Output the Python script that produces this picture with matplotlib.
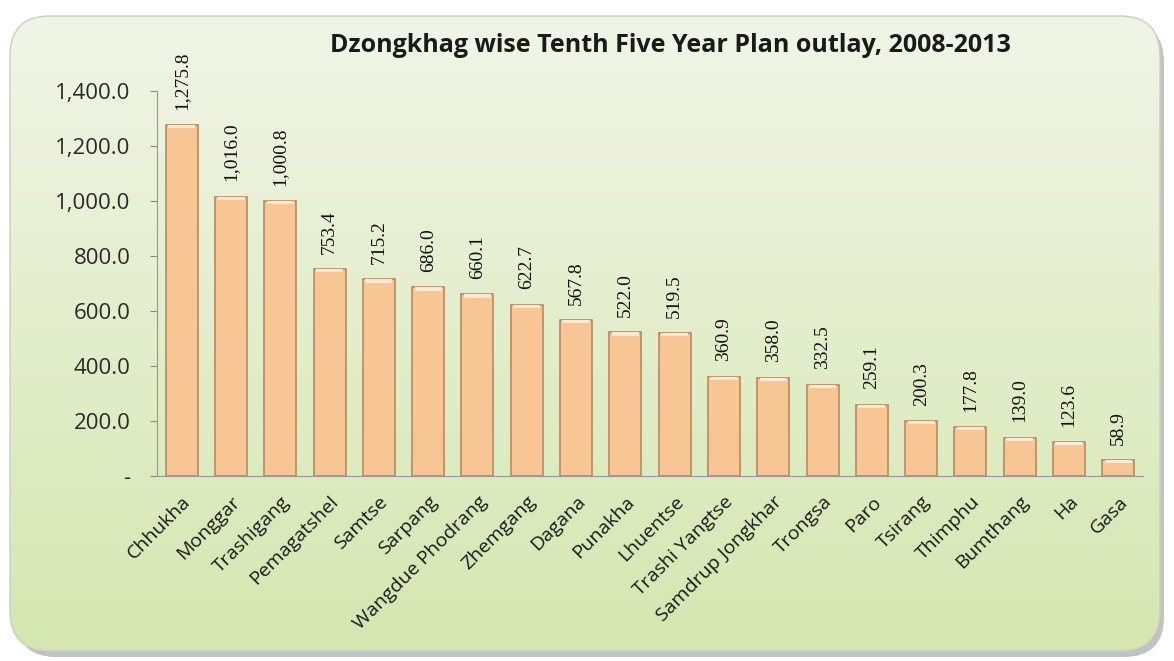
import matplotlib
matplotlib.use("Agg")
import matplotlib.pyplot as plt
import numpy as np
from matplotlib.patches import FancyBboxPatch
from matplotlib.ticker import FuncFormatter

categories = ["Chhukha", "Monggar", "Trashigang", "Pemagatshel", "Samtse", "Sarpang",
              "Wangdue Phodrang", "Zhemgang", "Dagana", "Punakha", "Lhuentse",
              "Trashi Yangtse", "Samdrup Jongkhar", "Trongsa", "Paro", "Tsirang",
              "Thimphu", "Bumthang", "Ha", "Gasa"]
values = [1275.8, 1016.0, 1000.8, 753.4, 715.2, 686.0, 660.1, 622.7, 567.8, 522.0,
          519.5, 360.9, 358.0, 332.5, 259.1, 200.3, 177.8, 139.0, 123.6, 58.9]
yticks = [0, 200, 400, 600, 800, 1000, 1200, 1400]
title = "Dzongkhag wise Tenth Five Year Plan outlay, 2008-2013"

W, H = 1174, 661
fig = plt.figure(figsize=(W/100, H/100), dpi=100)
fig.patch.set_facecolor("white")

# background panel with gradient and rounded corners
bg = fig.add_axes([0, 0, 1, 1], zorder=0)
bg.set_xlim(0, W); bg.set_ylim(0, H); bg.axis("off")
shadow = FancyBboxPatch((16, 4), W - 26, H - 26, boxstyle="round,pad=0,rounding_size=40",
                        facecolor="#9a9a9a", edgecolor="none", alpha=0.6)
bg.add_patch(shadow)
panel = FancyBboxPatch((10, 10), W - 24, H - 26, boxstyle="round,pad=0,rounding_size=40",
                       facecolor="none", edgecolor="#c9cfc0", lw=1)
bg.add_patch(panel)
grad = np.linspace(0, 1, 256).reshape(-1, 1)
top = np.array([0.945, 0.960, 0.905])
bot = np.array([0.835, 0.905, 0.690])
img = top[None, None, :] * (1 - grad[:, :, None]) + bot[None, None, :] * grad[:, :, None]
im = bg.imshow(img, extent=[10, W - 14, 10, H - 16], origin="upper", aspect="auto", zorder=1)
im.set_clip_path(panel)
panel.set_zorder(2)

ax = fig.add_axes([157/W, 1 - 476/H, (1143 - 157)/W, (476 - 91)/H], zorder=2)
ax.patch.set_alpha(0)
x = np.arange(len(categories))
bars = ax.bar(x, values, width=0.65, color="#f8c594", edgecolor="#b88a60", linewidth=1.2, zorder=3)
# top highlight
ax.bar(x, [12]*len(values), bottom=np.array(values) - 12, width=0.55, color="#fde9d2",
       edgecolor="none", zorder=4)

ax.set_xlim(-0.5, len(categories) - 0.5)
ax.set_ylim(0, 1400)
ax.set_yticks(yticks)
ax.yaxis.set_major_formatter(FuncFormatter(lambda v, p: "-" if v == 0 else f"{v:,.1f}"))
ax.set_xticks(x)
ax.set_xticklabels(categories, rotation=45, ha="right", rotation_mode="anchor",
                   fontsize=14, family="Open Sans", color="#1a1a1a")
ax.tick_params(axis="x", length=0, pad=12)
ax.tick_params(axis="y", labelsize=16, length=5, color="#888888", pad=14, labelcolor="#2a2a2a")
for lab in ax.get_yticklabels():
    lab.set_family("Open Sans")
for s in ["top", "right"]:
    ax.spines[s].set_visible(False)
ax.spines["left"].set_color("#999999")
ax.spines["bottom"].set_color("#999999")

for xi, v in zip(x, values):
    ax.annotate(f"{v:,.1f}", (xi, v), xytext=(0, 11), textcoords="offset points",
                rotation=90, ha="center", va="bottom", fontsize=14,
                family="Liberation Serif", color="#111111")

fig.text(670/W, 1 - 45/H, title, ha="center", va="center", fontsize=18,
         fontweight="bold", family="Open Sans", color="#1a1a1a")

fig.savefig("out.png", dpi=100)
